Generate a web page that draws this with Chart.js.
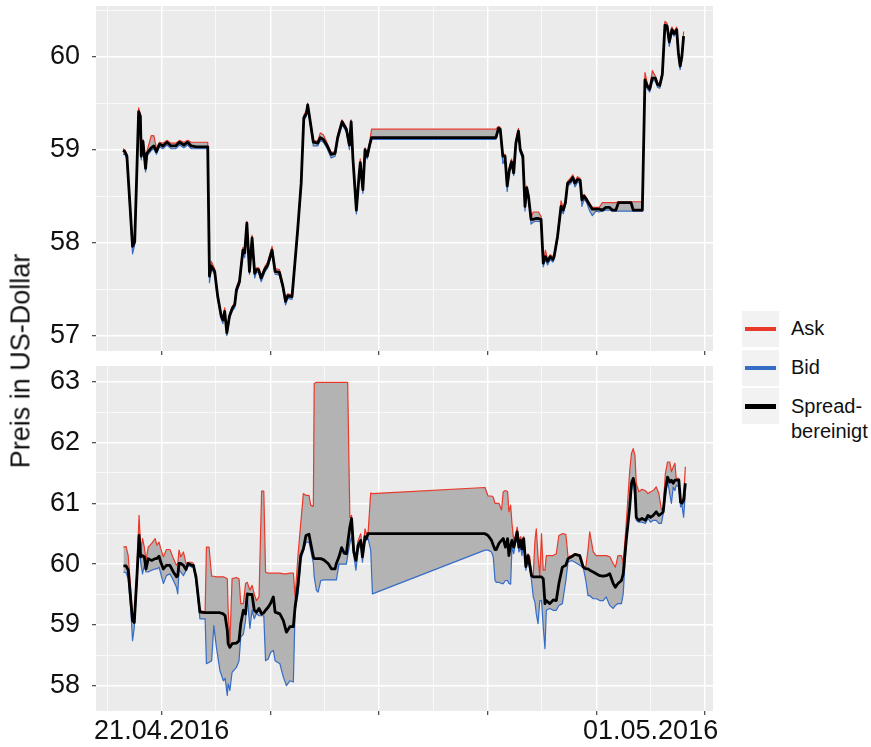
<!DOCTYPE html>
<html>
<head>
  <title>Ask, Bid und spread-bereinigter Preis</title>
  <script src="https://cdn.jsdelivr.net/npm/chart.js"></script>
  <style>
    body {
      margin: 0;
      background: #fff;
      font-family: "Liberation Sans", Arial, sans-serif;
    }
    #wrap { position: relative; width: 871px; height: 747px; }
    canvas { position: absolute; left: 0; }
    #ylab {
      position: absolute; left: 21px; top: 361px;
      transform: translate(-50%, -50%) rotate(-90deg);
      font-size: 27px; white-space: nowrap; color: #111;
    }
    .key {
      position: absolute; left: 742px; width: 37px; height: 36px;
      background: #f2f2f2;
    }
    .key span { position: absolute; left: 3px; right: 3px; top: 50%; }
    .txt {
      position: absolute; left: 791px; font-size: 20px; line-height: 25px;
      color: #111;
    }
  </style>
</head>
<body>
<div id="wrap">
  <canvas id="top" width="720" height="360" style="top:0"></canvas>
  <canvas id="bottom" width="720" height="387" style="top:360px"></canvas>
  <div id="ylab">Preis in US-Dollar</div>

  <div class="key" style="top:311px"><span style="height:4px;margin-top:-2px;background:#e8392a"></span></div>
  <div class="key" style="top:350px"><span style="height:4px;margin-top:-2px;background:#356cc5"></span></div>
  <div class="key" style="top:388px"><span style="height:5px;margin-top:-2.5px;background:#000"></span></div>
  <div class="txt" style="top:316px">Ask</div>
  <div class="txt" style="top:355px">Bid</div>
  <div class="txt" style="top:394px">Spread-<br>bereinigt</div>
</div>

<script>
  // x values are days counted from 21.04.2016 00:00
  const xTickDays = [-1.25, 0, 1.25, 2.5, 3.75, 5, 6.25, 7.5, 8.75, 10, 11.25, 12.5];
  const xTickLabels = {0: '21.04.2016', 11.25: '01.05.2016'};

  const topYTicks = [57, 57.5, 58, 58.5, 59, 59.5, 60, 60.5];
  const bottomYTicks = [58, 58.5, 59, 59.5, 60, 60.5, 61, 61.5, 62, 62.5, 63];

  // upper panel
  const topDays = [-0.89,-0.85,-0.80,-0.67,-0.62,-0.53,-0.49,-0.47,-0.43,-0.37,
    -0.34,-0.24,-0.18,-0.12,-0.05,0.03,0.12,0.22,0.32,0.41,
    0.51,0.60,0.68,0.80,1.06,1.10,1.14,1.22,1.29,1.37,
    1.41,1.45,1.50,1.56,1.63,1.68,1.72,1.79,1.87,1.91,
    1.96,2.02,2.08,2.14,2.18,2.23,2.29,2.37,2.44,2.54,
    2.61,2.71,2.79,2.85,2.90,3.00,3.06,3.13,3.21,3.27,
    3.33,3.36,3.40,3.49,3.59,3.65,3.72,3.80,3.90,3.99,
    4.05,4.15,4.25,4.32,4.36,4.40,4.48,4.54,4.57,4.63,
    4.68,4.73,4.78,4.83,7.69,7.75,7.79,7.85,7.90,7.95,
    8.00,8.05,8.10,8.15,8.21,8.25,8.31,8.36,8.40,8.44,
    8.50,8.55,8.61,8.67,8.73,8.78,8.83,8.88,8.94,9.00,
    9.03,9.11,9.19,9.24,9.29,9.34,9.40,9.46,9.51,9.57,
    9.63,9.67,9.72,9.78,9.84,9.91,9.99,10.07,10.14,10.22,
    10.30,10.37,10.45,10.51,10.80,10.85,11.06,11.12,11.18,11.23,
    11.29,11.36,11.41,11.46,11.52,11.58,11.63,11.68,11.74,11.79,
    11.85,11.89,11.93,11.97,12.01];
  const topAsk = [59.01,59.00,58.95,57.98,58.03,59.45,59.38,58.95,59.11,58.82,
    58.98,59.15,59.15,59.01,59.08,59.07,59.10,59.07,59.07,59.10,
    59.08,59.10,59.08,59.08,59.08,57.67,57.80,57.72,57.44,57.23,
    57.19,57.30,57.05,57.23,57.32,57.35,57.52,57.61,57.95,57.91,
    58.23,57.72,58.08,57.69,57.73,57.73,57.64,57.74,57.79,57.96,
    57.72,57.71,57.55,57.39,57.45,57.44,57.77,58.16,58.66,59.37,
    59.42,59.50,59.38,59.10,59.09,59.18,59.16,59.08,58.97,58.98,
    59.16,59.32,59.24,59.07,59.32,58.93,58.37,58.73,58.90,58.59,
    59.02,58.95,59.07,59.22,59.22,59.25,59.24,58.95,58.95,58.63,
    58.81,58.90,58.77,59.10,59.23,59.02,58.95,58.41,58.61,58.52,
    58.27,58.33,58.33,58.33,58.28,57.80,57.92,57.82,57.87,57.85,
    57.87,58.09,58.45,58.37,58.45,58.66,58.69,58.73,58.66,58.71,
    58.69,58.48,58.52,58.48,58.43,58.38,58.38,58.38,58.43,58.43,
    58.43,58.43,58.43,58.44,58.44,58.44,58.44,59.83,59.70,59.67,
    59.85,59.79,59.72,59.71,59.83,60.38,60.36,60.18,60.32,60.27,
    60.32,60.06,59.92,60.02,60.27];
  const topBid = [58.95,58.95,58.90,57.88,57.98,59.38,59.33,58.89,59.06,58.76,
    58.93,58.99,59.01,58.95,59.03,59.01,59.05,59.01,59.01,59.05,
    59.02,59.05,59.01,59.01,59.01,57.57,57.72,57.66,57.39,57.18,
    57.13,57.23,57.00,57.18,57.27,57.30,57.46,57.55,57.89,57.84,
    58.18,57.66,58.02,57.62,57.68,57.68,57.58,57.68,57.73,57.89,
    57.66,57.65,57.50,57.33,57.40,57.39,57.72,58.11,58.61,59.31,
    59.36,59.45,59.33,59.04,59.04,59.10,59.08,59.02,58.91,58.93,
    59.10,59.27,59.19,59.00,59.27,58.88,58.31,58.68,58.83,58.53,
    58.97,58.90,59.01,59.11,59.11,59.20,59.19,58.85,58.90,58.55,
    58.75,58.84,58.72,59.04,59.17,58.97,58.90,58.34,58.56,58.47,
    58.20,58.22,58.23,58.23,58.22,57.74,57.82,57.76,57.82,57.79,
    57.82,58.04,58.36,58.31,58.40,58.61,58.63,58.67,58.60,58.65,
    58.64,58.39,58.47,58.43,58.35,58.29,58.34,58.33,58.34,58.35,
    58.35,58.34,58.34,58.34,58.34,58.34,58.34,59.72,59.65,59.62,
    59.74,59.74,59.67,59.66,59.78,60.31,60.30,60.11,60.26,60.22,
    60.26,60.01,59.86,59.97,60.19];
  const topAdjusted = [58.99,58.98,58.93,57.96,58.01,59.41,59.36,58.93,59.09,58.80,
    58.96,59.02,59.04,58.98,59.06,59.04,59.08,59.04,59.04,59.08,
    59.05,59.08,59.04,59.03,59.03,57.64,57.75,57.69,57.42,57.21,
    57.17,57.26,57.03,57.21,57.30,57.33,57.49,57.58,57.92,57.89,
    58.21,57.69,58.05,57.67,57.71,57.71,57.62,57.71,57.76,57.92,
    57.69,57.68,57.53,57.37,57.43,57.42,57.75,58.14,58.64,59.34,
    59.39,59.48,59.36,59.08,59.07,59.13,59.11,59.05,58.95,58.96,
    59.13,59.30,59.22,59.05,59.30,58.91,58.35,58.71,58.86,58.57,
    59.00,58.93,59.04,59.13,59.13,59.23,59.22,58.93,58.93,58.61,
    58.78,58.87,58.75,59.07,59.20,59.00,58.93,58.39,58.59,58.50,
    58.25,58.25,58.26,58.26,58.25,57.78,57.85,57.80,57.85,57.82,
    57.85,58.07,58.39,58.35,58.43,58.64,58.66,58.70,58.64,58.68,
    58.67,58.46,58.50,58.46,58.41,58.36,58.36,58.36,58.35,58.38,
    58.38,58.35,58.35,58.43,58.43,58.35,58.35,59.75,59.68,59.65,
    59.77,59.77,59.70,59.69,59.81,60.34,60.33,60.16,60.29,60.25,
    60.29,60.04,59.90,60.00,60.22];

  // lower panel
  const bottomDays = [-0.88,-0.82,-0.77,-0.71,-0.67,-0.63,-0.57,-0.52,-0.48,-0.44,
    -0.40,-0.36,-0.31,-0.23,-0.15,-0.11,-0.06,-0.02,0.04,0.11,
    0.19,0.27,0.34,0.37,0.40,0.44,0.50,0.56,0.61,0.69,
    0.73,0.79,0.88,1.00,1.03,1.09,1.15,1.20,1.26,1.34,
    1.42,1.46,1.51,1.53,1.57,1.62,1.72,1.78,1.82,1.88,
    1.93,1.97,2.03,2.08,2.13,2.18,2.24,2.30,2.35,2.39,
    2.45,2.51,2.57,2.61,2.72,2.80,2.87,2.95,3.03,3.07,
    3.14,3.20,3.26,3.32,3.39,3.43,3.49,3.51,3.56,3.60,
    3.66,3.73,3.83,3.91,3.99,4.02,4.08,4.14,4.20,4.25,
    4.28,4.33,4.37,4.42,4.47,4.52,4.58,4.62,4.68,4.71,
    4.75,4.81,4.85,7.44,7.51,7.59,7.63,7.67,7.70,7.76,
    7.82,7.86,7.91,7.96,7.99,8.03,8.06,8.10,8.14,8.18,
    8.22,8.26,8.29,8.33,8.38,8.43,8.47,8.51,8.55,8.59,
    8.62,8.66,8.70,8.74,8.78,8.82,8.85,8.93,9.01,9.08,
    9.14,9.22,9.30,9.35,9.43,9.51,9.62,9.70,9.76,9.81,
    9.85,9.93,10.00,10.08,10.16,10.23,10.31,10.39,10.44,10.50,
    10.58,10.62,10.69,10.77,10.81,10.85,10.89,10.92,10.98,11.05,
    11.13,11.19,11.25,11.31,11.38,11.44,11.50,11.54,11.59,11.64,
    11.69,11.73,11.77,11.81,11.84,11.90,11.94,11.97,12.01,12.05];
  const bottomAsk = [60.28,60.29,60.14,59.57,59.13,59.13,59.90,60.80,60.23,60.42,
    60.28,60.06,60.28,60.34,60.42,60.31,60.36,60.25,60.12,60.24,
    60.24,60.09,59.98,60.01,60.23,60.12,60.20,60.01,60.03,60.03,
    60.01,59.81,59.24,59.21,60.28,60.28,59.80,59.80,59.79,59.79,
    59.79,59.78,59.76,59.24,58.71,59.76,59.78,59.76,59.35,59.35,
    59.68,59.70,59.57,59.65,59.51,59.40,59.46,61.20,61.20,59.87,
    59.85,59.85,59.85,59.85,59.85,59.84,59.84,59.85,59.85,59.46,
    60.17,60.67,61.16,61.13,61.13,60.97,60.95,62.97,62.99,62.99,
    62.99,62.99,62.99,62.99,62.99,62.99,62.99,62.99,62.99,62.99,
    62.99,60.77,60.80,60.26,60.12,60.39,60.50,60.23,60.58,60.50,
    60.52,61.17,61.16,61.26,61.12,61.12,61.10,61.00,61.00,61.00,
    60.89,61.19,61.21,61.19,60.86,60.97,60.67,60.39,60.47,60.61,
    60.39,60.45,60.39,60.45,60.06,60.17,60.12,59.84,59.81,60.39,
    60.58,60.12,59.81,60.50,59.90,59.90,60.14,60.14,60.14,60.17,
    60.47,60.50,60.49,60.12,60.14,60.17,60.15,59.96,59.96,60.23,
    60.53,60.20,60.14,60.14,60.14,60.14,60.12,60.01,59.95,60.14,
    60.14,60.01,60.67,61.54,61.82,61.90,61.79,61.33,61.19,61.23,
    61.21,61.16,61.19,61.21,61.27,61.16,60.89,60.94,61.49,61.68,
    61.68,61.52,61.60,61.66,61.41,61.41,61.05,61.05,61.10,61.60];
  const bottomBid = [59.87,59.86,59.76,59.24,58.74,58.96,59.68,60.36,60.01,59.84,
    59.98,59.87,59.87,59.90,59.92,59.92,59.95,59.84,59.68,59.81,
    59.84,59.73,59.62,59.51,59.90,59.87,59.81,59.89,59.98,59.95,
    59.95,59.73,59.10,59.10,58.36,58.38,58.41,58.99,58.63,58.25,
    58.08,58.12,57.84,58.03,57.92,58.22,58.30,58.41,58.80,58.85,
    59.07,59.46,58.94,59.24,59.10,59.19,59.15,59.15,59.15,58.41,
    58.44,58.55,58.58,58.41,58.36,58.14,58.00,58.08,58.06,59.24,
    59.51,60.06,60.22,60.36,60.36,60.23,60.01,59.79,59.57,59.54,
    59.73,59.74,59.74,59.74,59.74,59.74,60.00,60.00,60.00,60.00,
    60.14,60.34,60.45,60.14,59.90,60.23,60.34,60.03,60.42,60.39,
    60.42,60.23,59.51,60.23,60.23,60.20,60.12,59.73,59.70,59.70,
    59.68,59.68,59.73,59.73,59.68,59.67,60.28,60.17,60.34,60.42,
    60.20,60.28,60.14,60.34,59.90,60.06,59.92,59.73,59.46,59.37,
    59.18,59.02,59.40,59.40,58.96,58.61,59.24,59.27,59.24,59.24,
    59.32,59.35,59.73,60.03,60.06,60.03,59.98,59.94,59.73,59.48,
    59.48,59.43,59.43,59.40,59.40,59.46,59.32,59.27,59.32,59.35,
    59.35,59.51,60.37,60.92,61.21,61.35,61.10,60.72,60.69,60.69,
    60.67,60.75,60.69,60.72,60.72,60.67,60.67,60.83,61.13,61.38,
    61.16,61.00,61.27,61.21,61.30,61.27,60.94,60.97,60.77,61.16];
  const bottomAdjusted = [59.97,59.97,59.90,59.40,59.07,59.04,59.79,60.47,60.12,60.14,
    60.12,59.92,60.09,60.06,60.09,60.09,60.13,60.03,59.92,59.98,
    59.98,59.87,59.79,59.81,60.01,60.01,59.98,59.91,60.01,59.98,
    59.98,59.79,59.21,59.20,59.20,59.20,59.20,59.20,59.20,59.20,
    59.18,59.15,58.91,58.69,58.63,58.69,58.70,58.74,59.02,59.24,
    59.18,59.51,59.50,59.50,59.24,59.21,59.27,59.18,59.20,59.24,
    59.29,59.36,59.46,59.21,59.18,59.07,58.88,58.97,58.97,59.29,
    59.68,60.14,60.25,60.47,60.49,60.34,60.12,60.09,60.09,60.09,
    60.09,60.07,60.01,59.92,59.92,60.01,60.12,60.27,60.18,60.17,
    60.34,60.61,60.75,60.20,60.06,60.31,60.39,60.12,60.45,60.42,
    60.50,60.50,60.50,60.50,60.47,60.39,60.31,60.24,60.24,60.34,
    60.39,60.42,60.28,60.42,60.14,60.31,60.39,60.28,60.39,60.53,
    60.28,60.39,60.25,60.42,59.96,60.14,59.98,59.81,59.79,59.79,
    59.79,59.79,59.79,59.79,59.76,59.35,59.40,59.35,59.41,59.40,
    59.68,59.95,59.98,60.09,60.12,60.16,60.14,59.95,59.92,59.92,
    59.90,59.87,59.84,59.81,59.80,59.81,59.84,59.68,59.62,59.68,
    59.73,59.84,60.39,60.94,61.33,61.41,61.27,60.77,60.72,60.75,
    60.72,60.80,60.77,60.80,60.86,60.80,60.83,60.86,61.21,61.43,
    61.35,61.38,61.33,61.38,61.38,61.38,61.02,61.00,61.05,61.33];

  const ASK_COLOR = '#e8392a';
  const BID_COLOR = '#356cc5';
  const X_MIN = -1.511, X_MAX = 12.686;
  const tickFont = { family: '"Liberation Sans", Arial, sans-serif', size: 27 };

  // grey panel background like a ggplot facet
  const panelBg = {
    id: 'panelBg',
    beforeDraw(chart) {
      const a = chart.chartArea, ctx = chart.ctx;
      ctx.save();
      ctx.fillStyle = '#ebebeb';
      ctx.fillRect(a.left, a.top, a.right - a.left, a.bottom - a.top);
      ctx.restore();
    }
  };

  const isMajorX = v => Math.abs(v / 2.5 - Math.round(v / 2.5)) < 1e-6;
  const isMajorY = v => Math.abs(v - Math.round(v)) < 1e-6;

  function drawPanel(id, days, ask, bid, adjusted, yMin, yMax, yTicks, showXLabels, axisHeight) {
    const pts = arr => arr.map((v, i) => ({ x: days[i], y: v }));
    return new Chart(document.getElementById(id), {
      type: 'line',
      data: {
        datasets: [
          // ribbon between ask and bid
          { data: pts(ask), borderWidth: 0, pointRadius: 0, fill: 2, backgroundColor: '#b3b3b3', order: 3 },
          { label: 'Ask', data: pts(ask), borderColor: ASK_COLOR, borderWidth: 1.2, pointRadius: 0, fill: false, order: 1 },
          { label: 'Bid', data: pts(bid), borderColor: BID_COLOR, borderWidth: 1.2, pointRadius: 0, fill: false, order: 2 },
          { label: 'Spread-bereinigt', data: pts(adjusted), borderColor: '#000', borderWidth: 2.8, pointRadius: 0, fill: false, order: 0 }
        ]
      },
      options: {
        responsive: false,
        animation: false,
        devicePixelRatio: 1,
        layout: { padding: { top: 6, right: 7, left: 0, bottom: 0 } },
        elements: { line: { tension: 0, borderJoinStyle: 'round' } },
        plugins: { legend: { display: false }, tooltip: { enabled: false } },
        scales: {
          x: {
            type: 'linear',
            min: X_MIN,
            max: X_MAX,
            afterBuildTicks: s => { s.ticks = xTickDays.map(v => ({ value: v })); },
            afterFit: s => {
              s.height = axisHeight;
              s.paddingLeft = 0;
              s.paddingRight = 0;
            },
            border: { display: false },
            grid: {
              color: '#ffffff',
              lineWidth: c => (c.tick && isMajorX(c.tick.value) ? 1.4 : 0.7),
              tickLength: 4,
              tickWidth: 1.1,
              tickColor: c => (c.tick && isMajorX(c.tick.value) ? '#333333' : 'rgba(0,0,0,0)')
            },
            ticks: {
              autoSkip: false,
              maxRotation: 0,
              padding: 0,
              color: '#111',
              font: tickFont,
              callback: v => (showXLabels && xTickLabels[v] !== undefined ? xTickLabels[v] : '')
            }
          },
          y: {
            min: yMin,
            max: yMax,
            afterBuildTicks: s => { s.ticks = yTicks.map(v => ({ value: v })); },
            afterFit: s => {
              s.width = 96;
              s.paddingTop = 0;
              s.paddingBottom = 0;
            },
            border: { display: false },
            grid: {
              color: '#ffffff',
              lineWidth: c => (c.tick && isMajorY(c.tick.value) ? 1.4 : 0.7),
              tickLength: 4,
              tickWidth: 1.1,
              tickColor: c => (c.tick && isMajorY(c.tick.value) ? '#333333' : 'rgba(0,0,0,0)')
            },
            ticks: {
              autoSkip: false,
              padding: 12,
              color: '#111',
              font: tickFont,
              callback: v => (isMajorY(v) ? String(Math.round(v)) : '')
            }
          }
        }
      },
      plugins: [panelBg]
    });
  }

  drawPanel('top', topDays, topAsk, topBid, topAdjusted, 56.835, 60.545, topYTicks, false, 9);
  drawPanel('bottom', bottomDays, bottomAsk, bottomBid, bottomAdjusted, 57.583, 63.259, bottomYTicks, true, 36);
</script>
</body>
</html>
